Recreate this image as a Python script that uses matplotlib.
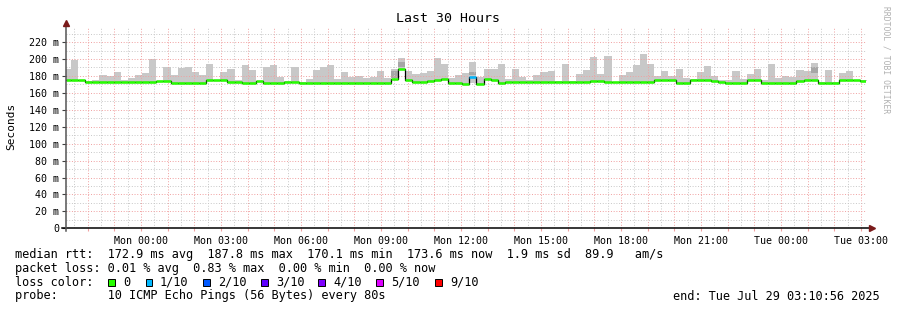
import matplotlib
matplotlib.use('Agg')
import matplotlib.pyplot as plt
from matplotlib.patches import Rectangle
from matplotlib.ticker import MultipleLocator, FuncFormatter

W, H = 897, 310

# time axis in hours from Mon 00:00, one smoke bar every 960 s
t_first = -2.625
step_h = 960 / 3600.
t_left, t_right = -2.8125, 27.182

# median rtt per bar (ms)
median = [174.6, 174.6, 174.6,
          172.6, 172.6, 172.6, 172.6, 172.6, 172.6, 172.6, 172.6, 172.6, 172.6,
          174.4, 174.4,
          172.2, 172.2, 172.2, 172.2, 172.2,
          174.6, 174.6, 174.6,
          173.4, 173.4, 171.9, 171.9, 173.6,
          172.2, 172.2, 172.2, 173.0, 173.0,
          172.2, 172.2, 172.2, 172.2, 172.2, 172.2, 172.2, 172.2, 172.2, 172.2,
          172.2, 172.2, 172.2,
          175.8, 187.8, 174.8, 172.3, 172.3, 173.8, 174.6, 176.6,
          171.4, 171.4, 170.1, 178.5, 170.8, 176.7, 174.8, 171.2,
          172.3, 172.3, 172.3, 172.3, 172.3, 172.3, 172.3, 172.3, 172.3, 172.3,
          172.3, 172.3,
          173.8, 173.8, 172.8, 172.3, 172.3, 172.3, 172.3, 172.3,
          173.4, 174.6, 174.6, 174.6, 171.9, 171.9, 174.6, 174.6, 174.6, 173.8,
          173.0,
          171.9, 171.9, 171.9, 174.6, 174.6, 171.9, 171.9, 171.9, 171.9, 171.9,
          173.5, 174.6, 174.6, 171.9, 171.9, 171.9, 174.6, 174.6, 174.6, 173.6]

# max rtt per bar (top of the smoke)
smoke_max = [188.0, 199.0, 175.0, 174.4, 175.0, 181.5, 180.0, 184.6, 175.0, 177.5,
             181.0, 183.5, 200.4, 174.4, 191.0, 181.0, 189.7, 190.3, 184.6, 181.1,
             194.1, 175.0, 184.6, 188.2, 175.0, 193.3, 187.0, 174.0, 191.0, 193.3,
             179.1, 173.5, 190.6, 173.0, 176.8, 187.0, 190.9, 193.3, 176.4, 185.0,
             179.0, 180.0, 178.0, 179.0, 186.0, 178.0, 188.0, 201.0, 186.0, 182.2,
             183.0, 185.8, 200.8, 194.0, 178.0, 181.0, 183.1, 196.8, 179.0, 188.0,
             188.0, 194.0, 176.0, 188.0, 178.4, 175.0, 181.5, 184.6, 185.8, 174.0,
             194.0, 174.0, 182.2, 187.0, 202.0, 182.2, 204.0, 173.0, 181.5, 184.6,
             193.3, 205.9, 194.0, 180.3, 185.8, 180.0, 188.0, 178.0, 176.0, 184.6,
             191.8, 180.0, 175.0, 175.0, 186.2, 176.0, 182.3, 188.2, 175.0, 194.1,
             177.2, 180.0, 178.4, 187.0, 186.0, 195.3, 173.0, 187.0, 173.0, 183.1,
             185.5, 175.0, 175.0]

# bars whose smoke reaches below the median
low_bars = [46, 57]
low_vals = [177.0, 172.0]

# denser (darker) smoke bands
dark_bars = [46, 47, 57, 105]
dark_lo = [178.0, 190.0, 181.0, 184.0]
dark_hi = [186.0, 197.0, 185.0, 190.0]

# loss level per bar (index into loss_colors)
lossy_bars = [57]
lossy_level = [1]

loss_labels = ['0', '1/10', '2/10', '3/10', '4/10', '5/10', '9/10']
loss_colors = ['#26ff00', '#00b8ff', '#0059ff', '#5e00ff', '#7e00ff', '#dd00ff', '#ff0000']

x_ticks = ['Mon 00:00', 'Mon 03:00', 'Mon 06:00', 'Mon 09:00', 'Mon 12:00',
           'Mon 15:00', 'Mon 18:00', 'Mon 21:00', 'Tue 00:00', 'Tue 03:00']

legend_rows = [
    'median rtt:  172.9 ms avg  187.8 ms max  170.1 ms min  173.6 ms now  1.9 ms sd  89.9   am/s',
    'packet loss: 0.01 % avg  0.83 % max  0.00 % min  0.00 % now',
    'loss color:',
    'probe:       10 ICMP Echo Pings (56 Bytes) every 80s',
]
end_text = 'end: Tue Jul 29 03:10:56 2025'

MONO = 'DejaVu Sans Mono'
plt.rcParams['font.family'] = MONO


def fx(px):
    return px / W


def fy(py):
    return 1 - py / H


fig = plt.figure(figsize=(W / 100, H / 100), dpi=100)
ax = fig.add_axes([fx(66), fy(228.3), 800 / W, (228.3 - 27) / H])

n = len(median)
edges = [t_first + (i - 1) * step_h for i in range(n + 1)]
edges[0] = t_left

for i in range(n):
    lo = median[i]
    if i in low_bars:
        lo = low_vals[low_bars.index(i)]
    hi = max(smoke_max[i], median[i])
    ax.fill_between([edges[i], edges[i + 1]], lo, hi, color='#c8c8c8',
                    lw=0, zorder=1)
for b, lo, hi in zip(dark_bars, dark_lo, dark_hi):
    ax.fill_between([edges[b], edges[b + 1]], lo, hi, color='#a6a6a6',
                    lw=0, zorder=1.2)

# black median step + loss coloured median bars
ax.step(edges, median + [median[-1]], where='post', color='black', lw=0.9,
        zorder=3)
for i in range(n):
    lvl = lossy_level[lossy_bars.index(i)] if i in lossy_bars else 0
    ax.hlines(median[i], edges[i], edges[i + 1], colors=loss_colors[lvl],
              lw=1.8, zorder=4)

ax.set_xlim(t_left, t_right)
ax.set_ylim(0, 237.8)

# grid
ax.set_axisbelow(False)
ax.xaxis.set_major_locator(MultipleLocator(1))
ax.xaxis.set_minor_locator(MultipleLocator(0.5))
ax.yaxis.set_major_locator(MultipleLocator(20))
ax.yaxis.set_minor_locator(MultipleLocator(10))
ax.grid(which='major', color='#f0a0a0', lw=0.7, ls=(0, (1, 1.8)))
ax.grid(which='minor', color='#c8c8c8', lw=0.7, ls=(0, (1, 1.8)))


def xfmt(v, pos):
    h = int(round(v))
    if h % 3 == 0 and 0 <= h <= 27:
        return x_ticks[h // 3]
    return ''


ax.xaxis.set_major_formatter(FuncFormatter(xfmt))
ax.yaxis.set_major_formatter(FuncFormatter(lambda v, p: '0' if v == 0 else '%d m' % v))
ax.tick_params(axis='x', which='major', length=2.5, color='#f0a0a0', pad=3,
               labelsize=7.2)
ax.tick_params(axis='y', which='major', length=3, color='#404040', pad=2,
               labelsize=7.2)
ax.tick_params(which='minor', length=0)
for s in ax.spines.values():
    s.set_visible(False)

# axes with arrows
ax.plot([-0.005, 1.006], [0, 0], transform=ax.transAxes, color='black', lw=1.1,
        clip_on=False, zorder=5)
ax.plot([0, 0], [-0.015, 1.015], transform=ax.transAxes, color='#555555', lw=1.1,
        clip_on=False, zorder=5)
ax.plot([1.007], [0], transform=ax.transAxes, marker='>', ms=4, color='#7a1a1a',
        clip_on=False, zorder=6)
ax.plot([0], [1.02], transform=ax.transAxes, marker='^', ms=4, color='#7a1a1a',
        clip_on=False, zorder=6)

fig.text(fx(448), fy(19), 'Last 30 Hours', ha='center', va='center', fontsize=9.5)
fig.text(fx(11), fy(126), 'Seconds', rotation=90, ha='center', va='center',
         fontsize=8)
fig.text(fx(886), fy(60), 'RRDTOOL / TOBI OETIKER', rotation=270, ha='center',
         va='center', fontsize=5.8, color='#b0b0b0')

LF = 8.55
row_y = [254.3, 268.3, 282.3, 296]
for y, s in zip(row_y, legend_rows):
    fig.text(fx(15), fy(y), s, ha='left', va='center', fontsize=LF)

sq_x = [108.3, 145.7, 203.3, 261, 318.3, 376, 435]
lab_x = [123.3, 160, 218.3, 276, 333.3, 390.7, 450]
for sx, lx, lab, c in zip(sq_x, lab_x, loss_labels, loss_colors):
    fig.patches.append(Rectangle((fx(sx), fy(285.5)), 6.7 / W, 6.7 / H,
                                 facecolor=c, edgecolor='black', lw=0.7,
                                 transform=fig.transFigure, figure=fig))
    fig.text(fx(lx), fy(282.3), lab, ha='left', va='center', fontsize=LF)

fig.text(fx(880), fy(296), end_text, ha='right', va='center', fontsize=LF)

fig.savefig('out.png', dpi=100, facecolor='white')
